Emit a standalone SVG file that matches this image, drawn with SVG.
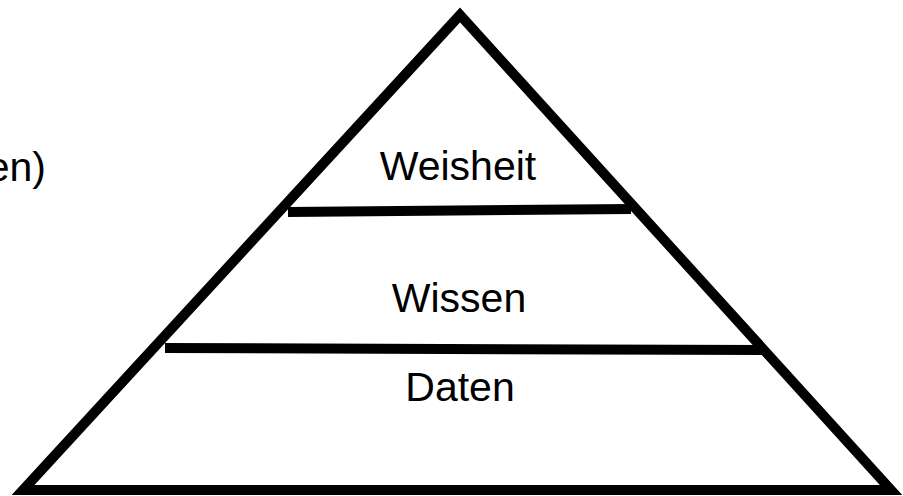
<svg xmlns="http://www.w3.org/2000/svg" width="903" height="496" viewBox="0 0 903 496">
<style>
.t{font-family:"Liberation Sans",Arial,sans-serif;font-size:41px;fill:#000;text-anchor:middle}
.s{fill:none;stroke:#000;stroke-width:10}
</style>
<rect width="903" height="496" fill="#fff"/>
<g id="left-text"><text class="t" x="46" y="181" style="text-anchor:end">en)</text></g>
<g id="pyramid"><polygon class="s" stroke-width="11" points="460,15 23,490 891,490"/></g>
<g id="connectors">
<line class="s" x1="288" y1="212" x2="631" y2="209"/>
<line class="s" x1="165" y1="348" x2="763" y2="350"/>
</g>
<g id="weisheit"><text class="t" x="458" y="180">Weisheit</text></g>
<g id="wissen"><text class="t" x="459" y="312">Wissen</text></g>
<g id="daten"><text class="t" x="460" y="401">Daten</text></g>
</svg>
